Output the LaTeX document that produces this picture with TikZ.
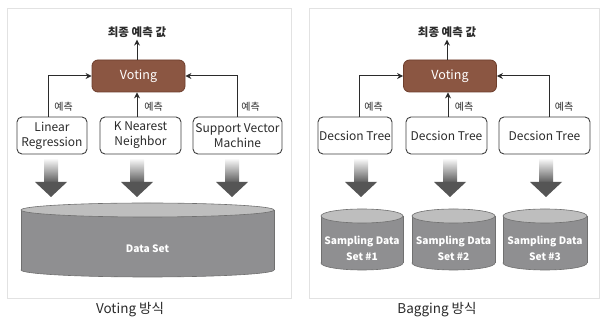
\documentclass[tikz,border=0pt]{standalone}
\usepackage{fontspec}
\setmainfont{Noto Sans CJK KR}
\usetikzlibrary{arrows.meta}
\definecolor{brownbox}{HTML}{8B5642}
\definecolor{brownedge}{HTML}{6E3E2C}
\definecolor{panel}{HTML}{E2E2E2}
\definecolor{ink}{HTML}{2B2B2B}
\definecolor{cylside}{HTML}{8F8F91}
\definecolor{cyltop}{HTML}{BEBEBE}
\definecolor{cyledge}{HTML}{707070}
\definecolor{barrow}{HTML}{555555}
\newcommand\mycyl[6]{% cx, rx, ytop, ybot, ry, name
  \fill[cylside, draw=cyledge, line width=0.6pt] (#1,#4) ellipse[x radius=#2pt, y radius=#5pt];
  \fill[cylside] ({#1-#2},#3) rectangle ({#1+#2},#4);
  \draw[cyledge, line width=0.6pt] ({#1-#2},#3) -- ({#1-#2},#4) ({#1+#2},#3) -- ({#1+#2},#4);
  \fill[cyltop, draw=cyledge, line width=0.6pt] (#1,#3) ellipse[x radius=#2pt, y radius=#5pt];
}
\newcommand\blockarrow[1]{%
  \shade[top color=white, bottom color=barrow!95!white] ({#1-7},158) rectangle ({#1+7},182.3);
  \fill[barrow] ({#1-16},182) -- ({#1+16},182) -- (#1,197) -- cycle;
}
\begin{document}
\begin{tikzpicture}[x=1pt,y=-1pt,
  model/.style={draw=ink!90, line width=0.9pt, rounded corners=5pt, fill=white,
     minimum height=37pt, inner sep=0pt, align=center, text=ink,
     font=\fontsize{12}{15}\selectfont},
  vote/.style={fill=brownbox, draw=brownedge, line width=0.8pt, rounded corners=6pt,
     minimum width=93pt, minimum height=32pt, inner sep=0pt, text=white,
     font=\fontsize{12.5}{14}\selectfont},
  arr/.style={draw=ink, line width=1pt, -{Stealth[length=6pt,width=6pt]}},
  lbl/.style={font=\fontsize{10}{12}\selectfont, text=ink, inner sep=0pt},
  ttl/.style={font=\bfseries\fontsize{11.5}{13}\selectfont, text=ink, inner sep=0pt},
  captxt/.style={font=\fontsize{13.5}{15}\selectfont, text=ink, inner sep=0pt},
  cyltxt/.style={font=\bfseries\fontsize{10.2}{16}\selectfont, text=white, align=center, inner sep=0pt}
]
\useasboundingbox[fill=white] (0,0) rectangle (608,328);
% panels
\draw[panel, line width=1pt] (7.5,8.5) rectangle (291.5,298.5);
\draw[panel, line width=1pt] (309,8.5) rectangle (599,298.5);

% ---------- left: Voting ----------
\node[ttl] (t1) at (137,32) {최종 예측 값};
\node[vote] (v1) at (138.5,76) {Voting};
\node[model, minimum width=70pt] (lr) at (52,135.5) {Linear\\Regression};
\node[model, minimum width=81pt] (knn) at (140.5,135.5) {K Nearest\\Neighbor};
\node[model, minimum width=89pt] (svm) at (237.5,135.5) {Support Vector\\Machine};
\draw[arr] (v1.north -| t1.south) -- ([yshift=-2pt]t1.south);
\draw[arr] ([xshift=-4pt]lr.north) |- (v1.west);
\draw[arr] (knn.north -| 137,0) -- (v1.south -| 137,0);
\draw[arr] (svm.north) |- (v1.east);
\node[lbl] (l1) at (63.5,107) {예측};
\node[lbl] (l2) at (153.5,107) {예측};
\node[lbl] (l3) at (250.5,107) {예측};
\blockarrow{51}
\blockarrow{137}
\blockarrow{232}
\mycyl{147.5}{126.5}{210}{270}{7}{ds}
\node[cyltxt] (ds) at (147.5,249) {Data Set};
\node[captxt] (c1) at (130,310) {Voting 방식};

% ---------- right: Bagging ----------
\node[ttl] (t2) at (447,32) {최종 예측 값};
\node[vote] (v2) at (450,76) {Voting};
\node[model, minimum width=74pt] (d1) at (355,135.5) {Decsion Tree};
\node[model, minimum width=81pt] (d2) at (446.5,135.5) {Decsion Tree};
\node[model, minimum width=91pt] (d3) at (544.5,135.5) {Decsion Tree};
\draw[arr] (v2.north -| t2.south) -- ([yshift=-2pt]t2.south);
\draw[arr] ([xshift=4pt]d1.north) |- (v2.west);
\draw[arr] (d2.north -| 448,0) -- (v2.south -| 448,0);
\draw[arr] ([xshift=4.5pt]d3.north) |- (v2.east);
\node[lbl] (l4) at (373.5,107) {예측};
\node[lbl] (l5) at (464,107) {예측};
\node[lbl] (l6) at (564,107) {예측};
\blockarrow{361}
\blockarrow{450}
\blockarrow{546}
\mycyl{362}{41}{216}{263}{7}{s1}
\mycyl{453.5}{41.5}{216}{263}{7}{s2}
\mycyl{545}{42}{216}{263}{7}{s3}
\node[cyltxt] (s1) at (362,248) {Sampling Data\\Set \#1};
\node[cyltxt] (s2) at (453.5,248) {Sampling Data\\Set \#2};
\node[cyltxt] (s3) at (545,248) {Sampling Data\\Set \#3};
\node[captxt] (c2) at (437,310) {Bagging 방식};
\end{tikzpicture}
\end{document}
